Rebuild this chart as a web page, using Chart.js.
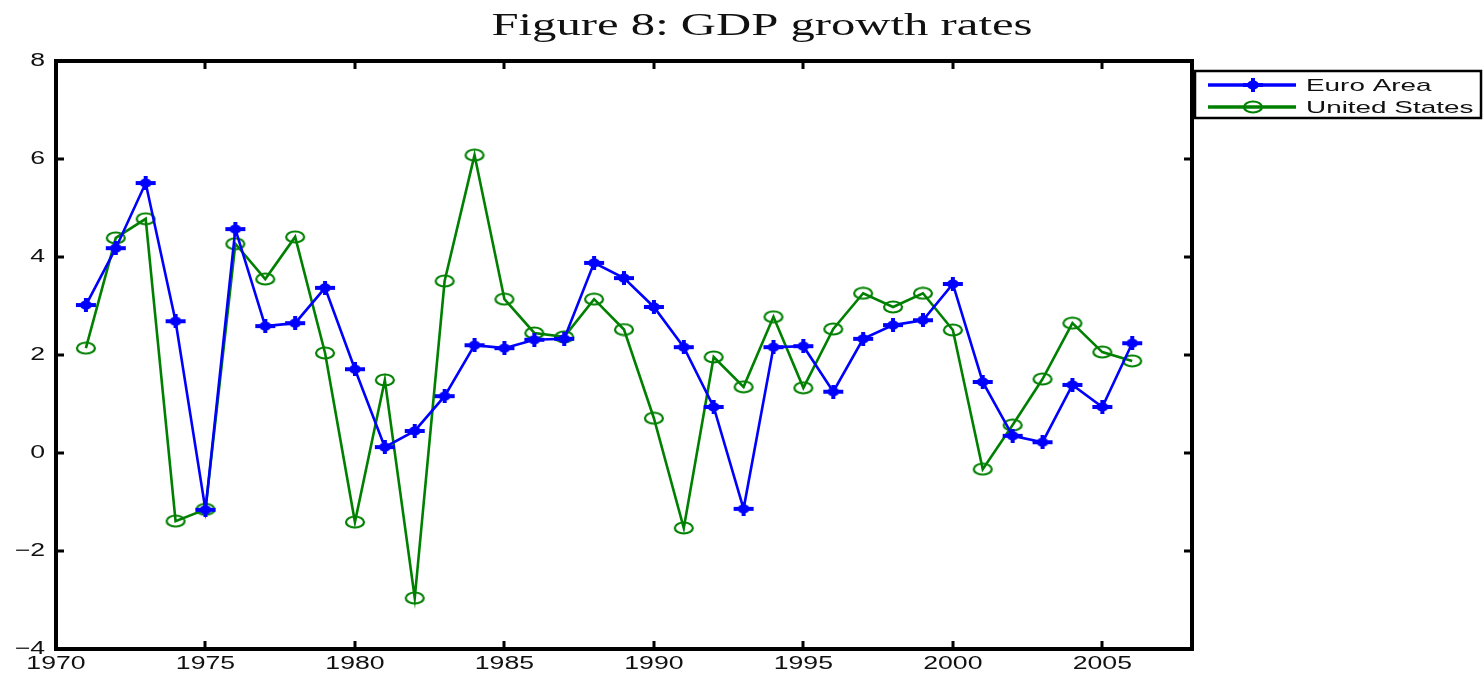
<!DOCTYPE html>
<html>
<head>
<meta charset="utf-8">
<script src="https://cdn.jsdelivr.net/npm/chart.js@4.4.1/dist/chart.umd.min.js"></script>
<style>
  html, body { margin: 0; padding: 0; background: #ffffff; }
  #wrap { width: 1484px; height: 674px; position: relative; }
  canvas { display: block; }
</style>
</head>
<body>
<div id="wrap"><canvas id="c" width="1484" height="674"></canvas></div>
<script>
// ---- data ----
const years = [1971, 1972, 1973, 1974, 1975, 1976, 1977, 1978, 1979, 1980,
               1981, 1982, 1983, 1984, 1985, 1986, 1987, 1988, 1989, 1990,
               1991, 1992, 1993, 1994, 1995, 1996, 1997, 1998, 1999, 2000,
               2001, 2002, 2003, 2004, 2005, 2006];
const euroArea = [3.02, 4.18, 5.51, 2.69, -1.16, 4.57, 2.59, 2.65, 3.37, 1.71,
                  0.12, 0.45, 1.16, 2.20, 2.14, 2.31, 2.33, 3.88, 3.57, 2.98,
                  2.16, 0.94, -1.14, 2.16, 2.18, 1.25, 2.33, 2.61, 2.71, 3.45,
                  1.45, 0.35, 0.22, 1.39, 0.94, 2.24];
const unitedStates = [2.14, 4.39, 4.78, -1.39, -1.15, 4.27, 3.55, 4.41, 2.04, -1.41,
                      1.49, -2.96, 3.51, 6.08, 3.14, 2.45, 2.37, 3.14, 2.52, 0.71,
                      -1.53, 1.96, 1.35, 2.78, 1.33, 2.53, 3.26, 2.98, 3.26, 2.51,
                      -0.33, 0.57, 1.51, 2.65, 2.06, 1.88];
const seriesNames = ['Euro Area', 'United States'];
const xTickValues = [1970, 1975, 1980, 1985, 1990, 1995, 2000, 2005];
const xTickLabels = ['1970', '1975', '1980', '1985', '1990', '1995', '2000', '2005'];
const yTickValues = [-4, -2, 0, 2, 4, 6, 8];
const yTickLabels = ['\u22124', '\u22122', '0', '2', '4', '6', '8'];
const titleText = 'Figure 8: GDP growth rates';

// ---- styles ----
const BLUE = '#0000ff';
const GREEN = '#008000';

function makePlusMarker(color) {
  const c = document.createElement('canvas');
  c.width = 22; c.height = 14;
  const g = c.getContext('2d');
  g.fillStyle = color;
  g.fillRect(1, 5, 20, 4);
  g.fillRect(9, 0, 4, 14);
  g.beginPath();
  g.ellipse(11, 7, 6, 4.5, 0, 0, Math.PI * 2);
  g.fill();
  return c;
}
function makeCircleMarker(color) {
  const c = document.createElement('canvas');
  c.width = 22; c.height = 14;
  const g = c.getContext('2d');
  g.strokeStyle = color;
  g.lineWidth = 2.2;
  g.beginPath();
  g.ellipse(11, 7, 9, 5.5, 0, 0, Math.PI * 2);
  g.stroke();
  return c;
}
const plusMarker = makePlusMarker(BLUE);
const circleMarker = makeCircleMarker(GREEN);

function toPoints(xs, ys) { return xs.map((x, i) => ({ x: x, y: ys[i] })); }

function stretchedText(ctx, text, x, y, font, align, baseline, sx, color) {
  ctx.save();
  ctx.font = font;
  ctx.fillStyle = color || '#000';
  ctx.textAlign = align;
  ctx.textBaseline = baseline;
  ctx.translate(x, y);
  ctx.scale(sx, 1);
  ctx.fillText(text, 0, 0);
  ctx.restore();
}

const matlabFrame = {
  id: 'matlabFrame',
  afterDraw(chart) {
    const ctx = chart.ctx;
    const a = chart.chartArea;
    const xs = chart.scales.x, ys = chart.scales.y;
    const tickFont = '18px "Liberation Sans", Arial, sans-serif';
    const tsx = 1.48;
    ctx.save();
    // axes box
    ctx.strokeStyle = '#000';
    ctx.lineWidth = 4;
    ctx.strokeRect(a.left, a.top, a.right - a.left, a.bottom - a.top);
    // inward ticks
    ctx.lineWidth = 3;
    const tl = 8;
    ctx.beginPath();
    xTickValues.forEach(v => {
      const px = Math.round(xs.getPixelForValue(v));
      ctx.moveTo(px, a.bottom); ctx.lineTo(px, a.bottom - tl);
      ctx.moveTo(px, a.top); ctx.lineTo(px, a.top + tl);
    });
    yTickValues.forEach(v => {
      const py = Math.round(ys.getPixelForValue(v));
      ctx.moveTo(a.left, py); ctx.lineTo(a.left + tl, py);
      ctx.moveTo(a.right, py); ctx.lineTo(a.right - tl, py);
    });
    ctx.stroke();
    ctx.restore();
    // tick labels
    xTickValues.forEach((v, i) => {
      stretchedText(ctx, xTickLabels[i], xs.getPixelForValue(v), 664, tickFont, 'center', 'middle', tsx, '#111');
    });
    yTickValues.forEach((v, i) => {
      stretchedText(ctx, yTickLabels[i], 45, ys.getPixelForValue(v), tickFont, 'right', 'middle', tsx, '#111');
    });
    // title
    const titleFont = '32px "Liberation Serif", "Times New Roman", serif';
    ctx.save();
    ctx.font = titleFont;
    const tw = ctx.measureText(titleText).width;
    ctx.restore();
    stretchedText(ctx, titleText, 762, 35, titleFont, 'center', 'alphabetic', 541 / tw, '#111');
    // legend
    ctx.save();
    ctx.fillStyle = '#fff';
    ctx.fillRect(1195, 71, 290, 47);
    ctx.strokeStyle = '#000';
    ctx.lineWidth = 2.5;
    ctx.strokeRect(1195, 71, 286, 47);
    const rows = [
      { name: seriesNames[0], color: BLUE, marker: plusMarker, y: 85 },
      { name: seriesNames[1], color: GREEN, marker: circleMarker, y: 107 }
    ];
    rows.forEach(r => {
      ctx.strokeStyle = r.color;
      ctx.lineWidth = 3.5;
      ctx.beginPath();
      ctx.moveTo(1208, r.y); ctx.lineTo(1296, r.y);
      ctx.stroke();
      ctx.drawImage(r.marker, 1253 - r.marker.width / 2, r.y - r.marker.height / 2);
    });
    ctx.restore();
    const legFont = '17px "Liberation Sans", Arial, sans-serif';
    rows.forEach(r => {
      stretchedText(ctx, r.name, 1306, r.y + 1, legFont, 'left', 'middle', 1.64, '#111');
    });
  }
};

new Chart(document.getElementById('c'), {
  type: 'line',
  data: {
    datasets: [
      {
        label: seriesNames[0],
        data: toPoints(years, euroArea),
        borderColor: BLUE,
        backgroundColor: BLUE,
        borderWidth: 2.6,
        pointStyle: plusMarker,
        pointRadius: 7,
        tension: 0,
        fill: false
      },
      {
        label: seriesNames[1],
        data: toPoints(years, unitedStates),
        borderColor: GREEN,
        backgroundColor: GREEN,
        borderWidth: 2.6,
        pointStyle: circleMarker,
        pointRadius: 7,
        tension: 0,
        fill: false
      }
    ]
  },
  options: {
    responsive: false,
    animation: false,
    events: [],
    layout: { padding: { left: 56, right: 292, top: 61, bottom: 25 } },
    plugins: {
      legend: { display: false },
      title: { display: false },
      tooltip: { enabled: false }
    },
    scales: {
      x: {
        type: 'linear',
        display: false,
        min: 1970,
        max: 2008,
        afterBuildTicks: s => { s.ticks = xTickValues.map(v => ({ value: v })); }
      },
      y: {
        type: 'linear',
        display: false,
        min: -4,
        max: 8,
        afterBuildTicks: s => { s.ticks = yTickValues.map(v => ({ value: v })); }
      }
    }
  },
  plugins: [matlabFrame]
});
</script>
</body>
</html>
